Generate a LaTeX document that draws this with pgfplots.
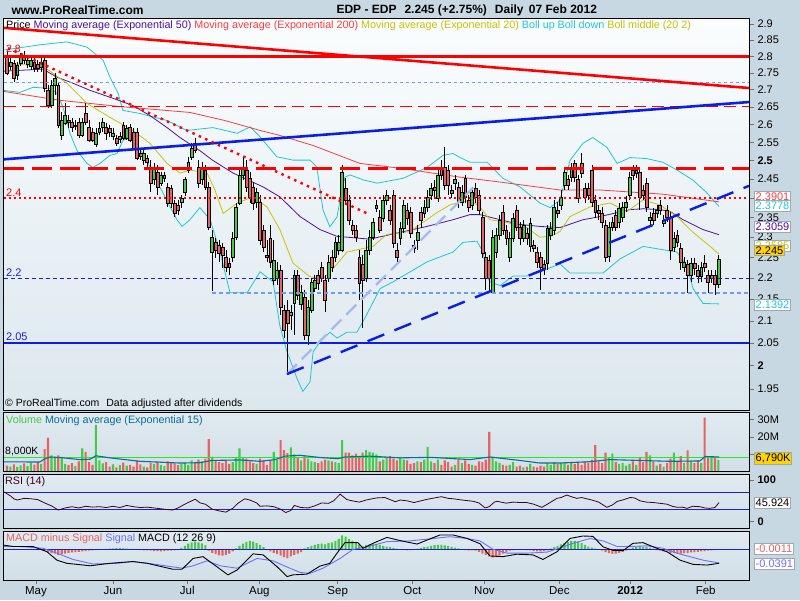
\documentclass[border=0pt]{standalone}
\usepackage{pgfplots}
\pgfplotsset{compat=1.18}
\usepackage{pgfplotstable}
\usepackage{fontspec}
\setmainfont{Liberation Sans}

\definecolor{outerbg}{HTML}{C8D8E2}
\definecolor{maintop}{HTML}{FAFDFE}
\definecolor{mainbot}{HTML}{DCE7EE}
\definecolor{subtop}{HTML}{E0EAF0}
\definecolor{subbot}{HTML}{D2DFE7}
\definecolor{upgreen}{HTML}{48C848}
\definecolor{downred}{HTML}{E46464}
\definecolor{ema50}{HTML}{5010A0}
\definecolor{ema200}{HTML}{FF3C3C}
\definecolor{ema20}{HTML}{C8C400}
\definecolor{boll}{HTML}{1EC8D2}
\definecolor{tlred}{HTML}{FF0000}
\definecolor{tlblue}{HTML}{0A1EE6}
\definecolor{lavender}{HTML}{A8B8F0}
\definecolor{dotblue}{HTML}{6E9CF5}
\definecolor{volema}{HTML}{0A6E96}
\definecolor{volline}{HTML}{28E628}
\definecolor{rsiline}{HTML}{400020}
\definecolor{refblue}{HTML}{2020C8}
\definecolor{sigblue}{HTML}{6E6EFF}
\definecolor{boxgray}{HTML}{A0A8B0}
\definecolor{gold}{HTML}{FFD200}

% daily bars: index, open, high, low, close, volume (M), MACD minus signal
\pgfplotstableread{
i o h l c v m
0 2.798 2.813 2.744 2.750 3.5 -0.001
1 2.771 2.795 2.759 2.783 3.0 0.001
2 2.780 2.789 2.723 2.735 4.2 0.002
3 2.744 2.783 2.729 2.774 2.8 0.001
4 2.780 2.810 2.771 2.798 3.6 -0.001
5 2.804 2.816 2.777 2.789 4.8 0.000
6 2.777 2.798 2.765 2.789 3.2 -0.001
7 2.771 2.801 2.759 2.789 5.0 0.001
8 2.783 2.795 2.753 2.765 4.1 0.000
9 2.777 2.789 2.753 2.765 5.5 -0.002
10 2.768 2.804 2.753 2.783 4.5 -0.002
11 2.789 2.804 2.693 2.705 13.0 -0.004
12 2.699 2.714 2.647 2.656 19.5 -0.008
13 2.656 2.729 2.647 2.714 9.5 -0.010
14 2.714 2.750 2.684 2.735 8.0 -0.012
15 2.714 2.723 2.590 2.598 9.5 -0.016
16 2.570 2.635 2.556 2.613 8.5 -0.014
17 2.604 2.661 2.598 2.627 4.5 -0.012
18 2.613 2.627 2.590 2.607 3.8 -0.010
19 2.607 2.618 2.579 2.593 5.0 -0.009
20 2.596 2.613 2.584 2.598 3.2 -0.008
21 2.607 2.618 2.562 2.570 6.0 -0.007
22 2.570 2.618 2.565 2.607 13.5 -0.006
23 2.632 2.661 2.598 2.607 11.5 -0.005
24 2.593 2.613 2.551 2.556 5.5 -0.004
25 2.579 2.590 2.551 2.556 4.0 -0.003
26 2.543 2.590 2.537 2.576 27.0 -0.002
27 2.579 2.607 2.570 2.590 6.5 -0.002
28 2.593 2.618 2.579 2.607 4.8 -0.001
29 2.593 2.604 2.556 2.576 5.5 0.001
30 2.590 2.598 2.565 2.579 3.0 0.002
31 2.567 2.590 2.556 2.576 4.2 0.003
32 2.562 2.570 2.540 2.548 2.5 0.004
33 2.559 2.579 2.548 2.567 3.8 0.004
34 2.598 2.607 2.556 2.562 5.2 0.003
35 2.562 2.598 2.556 2.590 3.5 0.002
36 2.593 2.601 2.551 2.556 4.0 0.001
37 2.579 2.590 2.529 2.534 3.0 0.001
38 2.579 2.590 2.501 2.507 6.5 0.000
39 2.520 2.534 2.501 2.512 4.2 -0.002
40 2.501 2.529 2.488 2.520 3.0 -0.003
41 2.507 2.515 2.482 2.496 2.5 -0.003
42 2.480 2.501 2.416 2.439 5.0 -0.004
43 2.448 2.493 2.434 2.482 4.5 -0.005
44 2.469 2.488 2.408 2.429 5.8 -0.005
45 2.439 2.469 2.432 2.461 4.0 -0.006
46 2.453 2.469 2.442 2.461 3.2 -0.005
47 2.429 2.440 2.377 2.387 6.0 -0.004
48 2.426 2.434 2.374 2.387 5.5 -0.004
49 2.387 2.395 2.351 2.361 4.8 -0.003
50 2.382 2.395 2.356 2.369 3.8 -0.002
51 2.390 2.408 2.374 2.400 4.5 0.004
52 2.416 2.455 2.405 2.448 5.2 0.010
53 2.474 2.509 2.466 2.496 4.0 0.016
54 2.509 2.548 2.501 2.534 6.5 0.020
55 2.548 2.562 2.520 2.529 5.0 0.022
56 2.482 2.501 2.426 2.439 7.0 0.020
57 2.448 2.496 2.434 2.482 6.0 0.017
58 2.474 2.488 2.421 2.429 7.5 0.012
59 2.429 2.442 2.318 2.326 18.8 -0.004
60 2.263 2.318 2.169 2.300 8.5 -0.010
61 2.288 2.298 2.249 2.268 6.5 -0.014
62 2.280 2.293 2.239 2.261 5.5 -0.017
63 2.275 2.285 2.224 2.256 5.0 -0.018
64 2.251 2.268 2.214 2.227 6.5 -0.016
65 2.236 2.248 2.207 2.227 4.5 -0.012
66 2.251 2.313 2.239 2.298 5.5 -0.006
67 2.300 2.387 2.293 2.377 8.0 0.003
68 2.387 2.474 2.382 2.461 13.5 0.010
69 2.461 2.509 2.448 2.480 8.0 0.016
70 2.474 2.501 2.416 2.429 7.5 0.021
71 2.453 2.469 2.387 2.403 6.0 0.024
72 2.429 2.442 2.369 2.387 5.0 0.022
73 2.390 2.426 2.374 2.416 4.5 0.018
74 2.390 2.408 2.280 2.293 7.5 0.013
75 2.318 2.331 2.263 2.275 6.5 0.006
76 2.256 2.293 2.239 2.249 4.0 -0.002
77 2.298 2.331 2.224 2.239 6.5 -0.006
78 2.195 2.293 2.184 2.244 11.5 -0.010
79 2.200 2.239 2.184 2.219 7.0 -0.014
80 2.219 2.232 2.113 2.132 18.2 -0.018
81 2.125 2.137 2.061 2.079 12.4 -0.022
82 2.125 2.148 1.980 2.095 10.8 -0.025
83 2.113 2.137 2.079 2.120 14.0 -0.020
84 2.141 2.219 2.068 2.207 10.0 -0.016
85 2.207 2.219 2.148 2.160 8.5 -0.012
86 2.137 2.184 2.125 2.167 6.5 -0.008
87 2.155 2.172 2.057 2.068 9.0 0.003
88 2.068 2.148 2.046 2.132 7.5 0.006
89 2.125 2.200 2.118 2.190 6.0 0.010
90 2.176 2.207 2.167 2.195 5.5 0.013
91 2.207 2.219 2.172 2.188 5.0 0.015
92 2.227 2.239 2.191 2.200 6.0 0.016
93 2.195 2.207 2.120 2.148 7.0 0.014
94 2.200 2.256 2.191 2.239 6.5 0.018
95 2.249 2.268 2.214 2.227 6.0 0.020
96 2.251 2.300 2.239 2.288 5.5 0.024
97 2.268 2.305 2.256 2.288 5.0 0.030
98 2.268 2.488 2.263 2.469 18.2 0.040
99 2.426 2.453 2.382 2.395 11.0 0.036
100 2.395 2.408 2.331 2.343 11.0 0.030
101 2.331 2.343 2.305 2.318 9.5 0.024
102 2.318 2.331 2.288 2.300 10.5 0.018
103 2.251 2.268 2.148 2.188 9.0 0.014
104 2.232 2.256 2.084 2.195 11.0 0.010
105 2.200 2.293 2.191 2.268 12.4 0.012
106 2.268 2.318 2.256 2.300 11.5 0.014
107 2.300 2.348 2.293 2.338 11.0 0.016
108 2.374 2.395 2.364 2.382 10.0 0.015
109 2.351 2.369 2.310 2.318 6.0 0.013
110 2.348 2.408 2.338 2.395 7.0 0.010
111 2.395 2.421 2.382 2.408 8.5 0.008
112 2.369 2.382 2.331 2.343 9.0 0.006
113 2.408 2.421 2.273 2.285 7.5 0.004
114 2.268 2.285 2.236 2.251 6.5 0.002
115 2.298 2.338 2.280 2.323 8.5 0.000
116 2.323 2.395 2.310 2.382 7.0 -0.002
117 2.369 2.387 2.331 2.348 6.5 -0.003
118 2.364 2.377 2.298 2.310 4.5 -0.002
119 2.280 2.293 2.261 2.273 5.0 0.000
120 2.293 2.331 2.268 2.313 6.0 0.002
121 2.364 2.377 2.323 2.343 5.5 0.004
122 2.361 2.395 2.348 2.377 7.0 0.006
123 2.377 2.421 2.364 2.403 14.3 0.008
124 2.408 2.439 2.395 2.426 6.0 0.010
125 2.429 2.448 2.400 2.421 5.0 0.012
126 2.400 2.474 2.390 2.461 7.0 0.013
127 2.480 2.501 2.448 2.461 4.0 0.013
128 2.482 2.537 2.421 2.434 6.5 0.011
129 2.474 2.488 2.408 2.434 5.5 0.009
130 2.421 2.434 2.400 2.413 3.0 0.007
131 2.439 2.461 2.421 2.448 4.0 0.005
132 2.429 2.442 2.374 2.390 7.0 0.003
133 2.390 2.434 2.380 2.416 5.0 -0.001
134 2.453 2.461 2.387 2.403 6.5 -0.002
135 2.395 2.408 2.364 2.377 4.5 -0.003
136 2.382 2.429 2.369 2.416 4.0 -0.003
137 2.426 2.439 2.387 2.403 3.5 -0.004
138 2.408 2.421 2.356 2.369 6.0 -0.007
139 2.351 2.364 2.249 2.261 5.5 -0.012
140 2.249 2.263 2.172 2.200 7.0 -0.016
141 2.244 2.256 2.167 2.200 23.0 -0.020
142 2.167 2.318 2.165 2.300 8.5 -0.024
143 2.263 2.323 2.249 2.305 6.0 -0.022
144 2.305 2.356 2.293 2.343 5.0 -0.018
145 2.364 2.382 2.305 2.318 4.0 -0.012
146 2.318 2.331 2.280 2.298 3.5 -0.008
147 2.249 2.313 2.239 2.298 4.0 -0.004
148 2.298 2.361 2.288 2.348 5.5 -0.002
149 2.369 2.382 2.316 2.326 3.0 -0.001
150 2.326 2.338 2.280 2.298 3.5 0.000
151 2.298 2.343 2.288 2.331 2.5 -0.001
152 2.310 2.323 2.280 2.298 3.0 -0.002
153 2.278 2.348 2.263 2.336 4.5 -0.003
154 2.280 2.293 2.263 2.273 3.0 -0.005
155 2.263 2.275 2.224 2.239 2.5 -0.006
156 2.249 2.263 2.172 2.227 3.5 -0.006
157 2.232 2.244 2.207 2.224 3.0 -0.005
158 2.236 2.331 2.219 2.323 5.0 -0.003
159 2.305 2.338 2.293 2.323 4.0 0.002
160 2.318 2.395 2.305 2.377 5.5 0.006
161 2.369 2.390 2.348 2.361 4.5 0.010
162 2.382 2.421 2.369 2.403 5.0 0.014
163 2.434 2.482 2.421 2.469 5.5 0.018
164 2.448 2.461 2.421 2.434 4.0 0.021
165 2.455 2.493 2.442 2.480 5.0 0.024
166 2.493 2.501 2.442 2.455 4.5 0.024
167 2.448 2.461 2.387 2.400 5.5 0.022
168 2.493 2.520 2.453 2.466 4.0 0.018
169 2.426 2.439 2.387 2.403 6.0 0.013
170 2.426 2.439 2.395 2.408 5.0 0.008
171 2.474 2.488 2.377 2.390 7.0 0.005
172 2.395 2.408 2.348 2.364 15.3 0.002
173 2.369 2.382 2.343 2.361 6.0 -0.001
174 2.361 2.377 2.323 2.338 5.0 -0.004
175 2.331 2.343 2.239 2.251 11.0 -0.008
176 2.253 2.338 2.239 2.326 8.0 -0.011
177 2.326 2.351 2.316 2.338 10.5 -0.013
178 2.356 2.369 2.316 2.326 5.5 -0.012
179 2.338 2.387 2.323 2.374 4.5 -0.010
180 2.351 2.390 2.338 2.377 5.0 -0.007
181 2.377 2.405 2.364 2.390 3.5 -0.004
182 2.408 2.469 2.395 2.455 4.5 0.002
183 2.474 2.488 2.448 2.461 6.0 0.005
184 2.466 2.488 2.453 2.474 4.0 0.008
185 2.469 2.482 2.369 2.403 8.0 0.009
186 2.421 2.434 2.395 2.408 5.5 0.008
187 2.439 2.453 2.364 2.377 11.5 0.006
188 2.343 2.364 2.328 2.351 9.5 0.004
189 2.361 2.374 2.331 2.343 6.0 0.002
190 2.361 2.382 2.348 2.369 3.5 -0.002
191 2.382 2.395 2.356 2.369 4.5 -0.004
192 2.336 2.356 2.326 2.343 3.0 -0.006
193 2.369 2.382 2.338 2.351 5.0 -0.008
194 2.351 2.364 2.244 2.268 7.5 -0.010
195 2.275 2.313 2.263 2.298 11.0 -0.011
196 2.305 2.318 2.275 2.288 6.0 -0.012
197 2.273 2.285 2.219 2.239 9.0 -0.012
198 2.227 2.251 2.214 2.239 5.0 -0.011
199 2.232 2.244 2.165 2.207 12.3 -0.010
200 2.207 2.249 2.191 2.236 6.5 -0.009
201 2.236 2.249 2.207 2.224 5.0 -0.008
202 2.219 2.232 2.188 2.203 6.5 -0.007
203 2.203 2.239 2.191 2.227 5.0 -0.006
204 2.236 2.256 2.214 2.227 31.3 -0.005
205 2.207 2.219 2.165 2.191 9.0 -0.004
206 2.200 2.219 2.188 2.207 8.5 -0.003
207 2.207 2.219 2.160 2.184 8.5 -0.002
208 2.184 2.256 2.176 2.245 6.8 -0.001
}\candles

\pgfplotsset{
  panel/.style={
    scale only axis, anchor=south west, width=745.5pt,
    xmin=-1.02, xmax=216.96,
    axis on top,
    axis line style={black, line width=1pt},
    xtick=\empty,
    ytick pos=right, yticklabel pos=right,
    tick align=outside, major tick length=5pt,
    tick style={black!55, line width=0.6pt},
    yticklabel style={font=\fontsize{11}{12}\selectfont},
  },
}

\newcommand{\valbox}[4]{\node[anchor=west, draw=boxgray, fill=#3, text=#2, inner sep=1.3pt,
  line width=0.8pt, font=\fontsize{11}{12}\selectfont] at (754pt,#1pt) {#4};}

\begin{document}
\begin{tikzpicture}
\fill[outerbg] (0pt,0pt) rectangle (800pt,600pt);
\path[use as bounding box] (0pt,0pt) rectangle (800pt,600pt);
\shade[top color=maintop, bottom color=mainbot] (3.5pt,190pt) rectangle (749pt,581.5pt);
\shade[top color=subtop, bottom color=subbot] (3.5pt,128.3pt) rectangle (749pt,187.3pt);
\shade[top color=subtop, bottom color=subbot] (3.5pt,71.7pt) rectangle (749pt,125.5pt);
\shade[top color=subtop, bottom color=subbot] (3.5pt,20pt) rectangle (749pt,68.3pt);

% ---------------- price panel (logarithmic price scale) ----------------
\begin{axis}[panel, at={(3.5pt,190pt)}, height=391.5pt,
  y coord trafo/.code={\pgfmathparse{ln(#1)}},
  y coord inv trafo/.code={\pgfmathparse{exp(#1)}},
  ymin=1.906, ymax=2.9174,
  ytick={1.95,2,2.05,2.1,2.15,2.2,2.25,2.3,2.35,2.4,2.45,2.5,2.55,2.6,2.65,2.7,2.75,2.8,2.85,2.9},
  yticklabels={1.95,\textbf{2},2.05,2.1,2.15,2.2,2.25,2.3,2.35,2.4,2.45,\textbf{2.5},2.55,2.6,2.65,2.7,2.75,2.8,2.85,2.9}]

% Bollinger bands
\addplot[boll, line width=0.8pt] coordinates {
(-1.02,2.819)(9.6,2.835)(14.6,2.841)(17.5,2.844)(23.4,2.828)(28.1,2.788)(30.1,2.737)(32.5,2.689)
(33.9,2.640)(38.9,2.631)(46.8,2.611)(52.6,2.583)(60.2,2.591)(67.3,2.575)(71.1,2.593)(74.0,2.565)
(78.9,2.510)(83.6,2.501)(88.6,2.501)(90.6,2.482)(92.4,2.369)(94.4,2.326)(96.5,2.351)(97.4,2.395)
(98.8,2.455)(100.3,2.461)(104.1,2.448)(108.2,2.439)(112.9,2.447)(115.8,2.452)(122.8,2.481)(127.5,2.514)
(130.4,2.519)(132.5,2.508)(135.4,2.495)(140.4,2.495)(145.0,2.452)(150.0,2.429)(155.8,2.387)(158.8,2.375)
(161.7,2.395)(164.6,2.500)(168.4,2.547)(171.3,2.563)(175.4,2.536)(178.4,2.492)(182.2,2.508)
(187.1,2.505)(191.8,2.495)(195.9,2.474)(200.6,2.447)(204.7,2.413)(208.2,2.378)};
\addplot[boll, line width=0.8pt] coordinates {
(-1.02,2.698)(3.8,2.692)(7.6,2.707)(12.6,2.704)(14.6,2.689)(16.4,2.648)(17.5,2.611)(18.4,2.575)
(20.5,2.527)(23.4,2.492)(25.1,2.481)(27.2,2.492)(30.1,2.514)(32.2,2.519)(33.9,2.555)(36.0,2.563)
(38.0,2.536)(39.8,2.519)(42.7,2.466)(44.7,2.429)(47.7,2.377)(49.7,2.344)(51.2,2.327)(53.5,2.344)
(56.4,2.375)(59.4,2.344)(62.3,2.263)(65.2,2.165)(70.2,2.165)(74.0,2.215)(77.8,2.191)(79.8,2.088)
(81.9,2.030)(84.8,1.973)(86.5,1.945)(88.6,1.965)(89.5,2.030)(91.5,2.052)(94.4,2.074)(96.5,2.061)
(99.4,2.074)(102.3,2.074)(104.7,2.107)(109.1,2.175)(112.9,2.191)(122.8,2.239)(130.4,2.263)
(133.3,2.287)(137.4,2.290)(139.2,2.263)(140.4,2.205)(141.2,2.191)(144.2,2.182)(148.0,2.205)
(152.0,2.205)(155.8,2.215)(161.7,2.234)(164.6,2.212)(174.3,2.212)(179.2,2.246)(186.0,2.277)
(190.9,2.270)(195.9,2.263)(198.8,2.229)(200.6,2.175)(203.5,2.140)(208.2,2.139)};
% EMA 200
\addplot[ema200, line width=0.8pt] coordinates {
(-1.02,2.695)(15.5,2.669)(33.0,2.651)(53.5,2.634)(63.7,2.611)(74.0,2.583)(79.8,2.569)(89.5,2.541)
(103.2,2.492)(114.9,2.479)(132.5,2.455)(144.2,2.442)(161.7,2.421)(173.4,2.421)(191.8,2.410)(208.2,2.390)};
% EMA 50
\addplot[ema50, line width=0.8pt] coordinates {
(-1.02,2.755)(10.5,2.761)(14.6,2.737)(19.3,2.719)(24.3,2.698)(30.1,2.678)(36.8,2.654)(41.8,2.625)
(46.8,2.591)(50.6,2.563)(56.4,2.527)(60.2,2.500)(66.1,2.466)(74.9,2.429)(79.8,2.403)(85.7,2.352)
(91.5,2.319)(96.5,2.302)(99.4,2.300)(106.1,2.295)(114.9,2.312)(122.8,2.327)(130.4,2.344)(135.4,2.357)
(138.3,2.357)(144.2,2.344)(150.0,2.332)(155.8,2.327)(161.7,2.324)(168.4,2.344)(173.4,2.352)
(182.2,2.370)(186.0,2.372)(190.9,2.370)(193.9,2.365)(197.7,2.344)(203.5,2.319)(208.2,2.306)};
% EMA 20
\addplot[ema20, line width=0.8pt] coordinates {
(-1.02,2.779)(10.5,2.770)(17.5,2.719)(23.4,2.660)(30.1,2.620)(36.8,2.583)(41.8,2.547)(46.8,2.492)
(50.6,2.466)(53.5,2.474)(58.5,2.466)(60.8,2.421)(63.2,2.360)(67.3,2.387)(71.9,2.403)(76.0,2.377)
(79.8,2.319)(83.6,2.236)(88.6,2.203)(92.4,2.198)(95.3,2.222)(99.4,2.263)(103.2,2.270)(107.0,2.277)
(111.1,2.307)(117.8,2.314)(125.7,2.362)(129.5,2.382)(135.4,2.395)(138.3,2.377)(141.2,2.344)
(146.2,2.337)(152.0,2.324)(155.8,2.300)(158.8,2.302)(161.7,2.314)(164.6,2.352)(170.5,2.377)
(176.3,2.387)(181.3,2.365)(186.0,2.395)(190.9,2.382)(195.9,2.352)(200.6,2.312)(205.6,2.277)(208.2,2.258)};

% candles, one per table row, placed through axis cs
\pgfplotsinvokeforeach{0,...,208}{%
  \pgfplotstablegetelem{#1}{o}\of\candles\let\co\pgfplotsretval
  \pgfplotstablegetelem{#1}{h}\of\candles\let\ch\pgfplotsretval
  \pgfplotstablegetelem{#1}{l}\of\candles\let\cl\pgfplotsretval
  \pgfplotstablegetelem{#1}{c}\of\candles\let\cc\pgfplotsretval
  \ifdim\cc pt<\co pt \def\cfill{downred}\else\def\cfill{upgreen}\fi
  \pgfmathsetmacro\xa{#1-0.42}\pgfmathsetmacro\xb{#1+0.42}%
  \edef\next{%
    \noexpand\draw[black, line width=0.6pt] (axis cs:#1,\ch) -- (axis cs:#1,\cl);
    \noexpand\draw[fill=\cfill, draw=black, line width=0.6pt] (axis cs:\xa,\co) rectangle (axis cs:\xb,\cc);}%
  \next
}

% horizontal levels
\addplot[tlred, line width=2.6pt] coordinates {(-1.02,2.8)(216.96,2.8)};
\addplot[dotblue, line width=0.8pt, dash pattern=on 3pt off 3pt] coordinates {(-1.02,2.72)(216.96,2.72)};
\addplot[tlred, line width=0.8pt, dash pattern=on 12pt off 6pt] coordinates {(-1.02,2.651)(216.96,2.651)};
\addplot[tlred, line width=3pt, dash pattern=on 20pt off 8pt] coordinates {(-1.02,2.478)(216.96,2.478)};
\addplot[tlred, line width=2pt, dash pattern=on 2pt off 3pt] coordinates {(-1.02,2.4)(216.96,2.4)};
\addplot[refblue, line width=0.9pt, dash pattern=on 4pt off 3pt] coordinates {(-1.02,2.2)(216.96,2.2)};
\addplot[dotblue, line width=2pt, dash pattern=on 4pt off 3pt] coordinates {(59.9,2.165)(216.96,2.165)};
\addplot[tlblue, line width=2.4pt] coordinates {(-1.02,2.05)(216.96,2.05)};
% trend lines
\addplot[tlred, line width=2.6pt] coordinates {(-1.02,2.888)(216.96,2.705)};
\addplot[tlblue, line width=2.6pt] coordinates {(-1.02,2.503)(216.96,2.664)};
\addplot[tlred, line width=2.4pt, dash pattern=on 2.5pt off 4.5pt] coordinates {(0.29,2.825)(106.1,2.357)};
\addplot[lavender, line width=2.4pt, dash pattern=on 14pt off 7pt] coordinates {(81.87,1.982)(136.26,2.4265)};
\addplot[tlblue, line width=2.4pt, dash pattern=on 18pt off 11pt] coordinates {(81.87,1.982)(216.96,2.432)};
\end{axis}

% ---------------- volume panel ----------------
\begin{axis}[panel, at={(3.5pt,128.3pt)}, height=59pt, ymin=0, ymax=34.1,
  ytick={10,20,30}, yticklabels={,20M,30M}]
\addplot[ybar, bar width=0.62, bar shift=0pt, fill=upgreen, draw=none,
  restrict expr to domain={\thisrow{c}-\thisrow{o}}{0:1}] table[x=i, y=v] {\candles};
\addplot[ybar, bar width=0.62, bar shift=0pt, fill=downred, draw=none,
  restrict expr to domain={\thisrow{o}-\thisrow{c}}{0.0005:1}] table[x=i, y=v] {\candles};
\addplot[volline, line width=1.1pt] coordinates {(-1.02,8)(216.96,8)};
\addplot[volema, line width=1.1pt] coordinates {
(-1.02,5.7)(9.6,5.6)(11.1,7.5)(12.6,8.5)(15.5,8.2)(21.3,7.0)(24.3,7.2)(26.0,9.2)(30.1,8.0)(38.9,6.0)
(50.6,5.0)(56.4,5.2)(59.9,6.5)(68.1,6.8)(74.0,6.0)(78.4,7.0)(81.3,9.0)(85.7,9.5)(91.5,8.2)(96.8,7.5)
(98.8,8.5)(106.1,9.0)(114.9,8.0)(123.7,8.3)(135.4,7.0)(141.2,8.5)(150.0,6.5)(155.8,5.0)(161.7,5.0)
(170.5,5.8)(176.3,7.0)(185.1,6.5)(193.9,6.0)(202.6,6.2)(204.1,8.8)(208.2,8.5)};
\end{axis}

% ---------------- RSI panel ----------------
\begin{axis}[panel, at={(3.5pt,71.7pt)}, height=53.8pt, ymin=-15.8, ymax=113.2,
  ytick={0,100}, yticklabels={\textbf{0},\textbf{100}}]
\addplot[refblue, line width=1pt] coordinates {(-1.02,70)(216.96,70)};
\addplot[refblue, line width=1pt] coordinates {(-1.02,30)(216.96,30)};
\addplot[rsiline, line width=0.8pt] coordinates {
(-1,72)(1,62)(2,55)(3,52)(5,56)(7,55)(9,53)(11,45)(13,38)(15,28)(17,33)(19,36)(21,33)(23,37)(25,35)
(27,36)(29,34)(31,37)(33,34)(35,39)(37,36)(39,34)(41,35)(43,33)(45,31)(47,29)(48.5,28)(50,33)(52,42)
(53.5,48)(55,54)(56.5,45)(58,42)(60,30)(62,26)(64,23)(66,32)(67.5,44)(69.5,55)(71,52)(73,45)(74,37)
(76,38)(78,36)(80,30)(81.5,22)(83,27)(84,39)(86,34)(88,33)(90,38)(92,45)(94,44)(95.5,50)(97.4,66)
(99.4,53)(101,50)(103,47)(105,52)(108,57)(110.5,58)(112,53)(113.5,48)(115,52)(117,50)(119,46)(121,50)
(123,54)(125,57)(127,60)(129,56)(130.5,55)(133,52)(136.3,49)(138,45)(139.8,33)(141,36)(142.5,47)
(143.3,49)(145,46)(146,44.5)(148,47)(150,46)(152,46)(154,42)(156.4,34.5)(158,42)(160.8,56)(162,58)
(163.7,64)(165,60)(166.6,56)(168,58)(169.5,55)(171,52)(173,47)(175.4,34.5)(177,40)(178.4,48.6)
(180,52)(182.2,58)(183.5,57)(185.1,50)(187,47)(189,46)(191,44)(193,42)(194.5,37)(196,34.5)(197.5,35)
(198.8,32)(200.5,37)(202.6,36)(204,33)(205.5,32)(207,34)(208.2,45.9)};
\end{axis}

% ---------------- MACD panel ----------------
\begin{axis}[panel, at={(3.5pt,20pt)}, height=48.3pt, ymin=-0.0877, ymax=0.0503, ytick=\empty,
  xtick={8.48,31.0,52.7,73.8,96.7,118.5,139.6,161.5,182.2,204.3},
  xticklabels={May,Jun,Jul,Aug,Sep,Oct,Nov,Dec,\textbf{2012},Feb},
  xtick pos=bottom, major tick length=4pt,
  xticklabel style={font=\fontsize{11.5}{13}\selectfont, yshift=1pt}]
\addplot[ybar, bar width=0.62, bar shift=0pt, fill=upgreen, draw=none,
  restrict y to domain=0:1] table[x=i, y=m] {\candles};
\addplot[ybar, bar width=0.62, bar shift=0pt, fill=downred, draw=none,
  restrict y to domain=-1:-0.0001] table[x=i, y=m] {\candles};
\addplot[refblue, line width=1pt] coordinates {(-1.02,0)(216.96,0)};
\addplot[sigblue, line width=0.9pt] coordinates {
(-1.02,0.008)(3.8,0.008)(10.5,0.003)(14.6,-0.011)(19.3,-0.029)(25.1,-0.042)(32.2,-0.040)(36.8,-0.035)
(42.7,-0.042)(51.2,-0.054)(54.4,-0.047)(58.5,-0.033)(62.3,-0.047)(67.3,-0.054)(73.1,-0.026)(77.8,-0.033)
(82.7,-0.054)(85.7,-0.066)(88.6,-0.069)(92.4,-0.054)(97.4,-0.026)(101.2,0.000)(105.3,0.007)(111.1,0.022)
(114.9,0.023)(117.8,0.024)(122.8,0.029)(129.5,0.036)(134.5,0.031)(138.3,0.024)(142.1,0.000)(146.2,-0.011)
(152.0,-0.011)(157.9,-0.008)(161.7,0.004)(165.5,0.017)(170.5,0.031)(174.3,0.024)(178.4,0.008)(182.2,0.008)
(187.1,0.010)(191.8,0.003)(195.9,-0.011)(199.7,-0.021)(203.5,-0.031)(208.2,-0.039)};
\addplot[black, line width=0.9pt] coordinates {
(-1.02,0.012)(1.8,0.008)(7.6,0.008)(11.7,-0.007)(14.6,-0.031)(17.5,-0.040)(24.3,-0.047)(30.1,-0.040)
(36.8,-0.035)(41.0,-0.040)(48.5,-0.057)(51.2,-0.057)(54.4,-0.026)(57.3,-0.021)(61.4,-0.050)(64.6,-0.073)
(67.3,-0.059)(72.0,-0.013)(74.9,-0.016)(79.0,-0.050)(81.9,-0.078)(83.6,-0.073)(87.7,-0.071)(91.5,-0.048)
(94.4,-0.040)(96.8,-0.007)(98.8,0.019)(102.6,0.019)(104.1,0.003)(107.0,0.017)(111.1,0.034)(114.9,0.025)
(119.9,0.015)(126.6,0.041)(130.4,0.041)(134.5,0.031)(138.3,0.016)(141.2,-0.019)(145.0,-0.021)
(149.1,-0.014)(153.8,-0.016)(156.7,-0.029)(160.8,-0.007)(164.6,0.031)(168.4,0.038)(171.3,0.037)
(174.3,0.007)(177.2,-0.003)(180.1,-0.004)(183.0,0.017)(185.96,0.019)(190.0,0.003)(193.0,-0.007)
(196.8,-0.031)(200.6,-0.043)(204.7,-0.045)(208.2,-0.040)};
\end{axis}

% ---------------- texts ----------------
\node[anchor=west, font=\bfseries\fontsize{12}{14}\selectfont] at (8pt,590pt) {www.ProRealTime.com};
\node[anchor=west, font=\bfseries\fontsize{12}{14}\selectfont] at (333pt,590pt)
  {EDP - EDP\hspace{8pt}2.245 (+2.75\%)\hspace{8pt}Daily\hspace{2pt} 07 Feb 2012};
\node[anchor=west, inner sep=0pt, font=\fontsize{10.75}{12}\selectfont] at (6pt,574.5pt)
  {Price \textcolor{ema50}{Moving average (Exponential 50)} \textcolor{ema200}{Moving average (Exponential 200)} \textcolor{ema20}{Moving average (Exponential 20)} \textcolor{boll}{Boll up Boll down} \textcolor{ema20}{Boll middle (20 2)}};
\node[anchor=west, inner sep=0pt, font=\fontsize{10.5}{12}\selectfont] at (5pt,196pt) {\textcopyright\ ProRealTime.com\hspace{4pt} Data adjusted after dividends};
\node[anchor=west, inner sep=0pt, font=\fontsize{10.75}{12}\selectfont] at (6pt,179pt)
  {\textcolor{upgreen}{Volume} \textcolor{volema}{Moving average (Exponential 15)}};
\node[anchor=west, inner sep=0pt, font=\fontsize{10.5}{12}\selectfont] at (5pt,148pt) {8,000K};
\node[anchor=west, inner sep=0pt, font=\fontsize{10.75}{12}\selectfont, text=rsiline] at (5pt,118pt) {RSI (14)};
\node[anchor=west, inner sep=0pt, font=\fontsize{10.75}{12}\selectfont] at (6pt,61pt)
  {\textcolor{downred}{MACD minus Signal} \textcolor{sigblue}{Signal} MACD (12 26 9)};
% level labels inside the price panel
\node[anchor=west, inner sep=0pt, font=\fontsize{10.5}{12}\selectfont, text=tlred] at (6pt,551pt) {2.8};
\node[anchor=west, inner sep=0pt, font=\fontsize{11}{12}\selectfont, text=tlred] at (6pt,407pt) {2.4};
\node[anchor=west, inner sep=0pt, font=\fontsize{11}{12}\selectfont, text=refblue] at (6pt,327pt) {2.2};
\node[anchor=west, inner sep=0pt, font=\fontsize{11}{12}\selectfont, text=refblue] at (6pt,263pt) {2.05};
% value boxes
\valbox{403}{ema200}{white}{2.3901}
\valbox{394}{boll}{white}{2.3778}
\valbox{373}{ema50}{white}{2.3059}
\valbox{354}{ema20}{white}{2.2585}
\valbox{349.5}{black}{gold}{2.245}
\valbox{295}{boll}{white}{2.1392}
\valbox{141.5}{black}{gold}{6,790K}
\valbox{97}{black}{white}{45.924}
\valbox{51}{downred}{white}{-0.0011}
\valbox{36}{sigblue}{white}{-0.0391}
\end{tikzpicture}
\end{document}
